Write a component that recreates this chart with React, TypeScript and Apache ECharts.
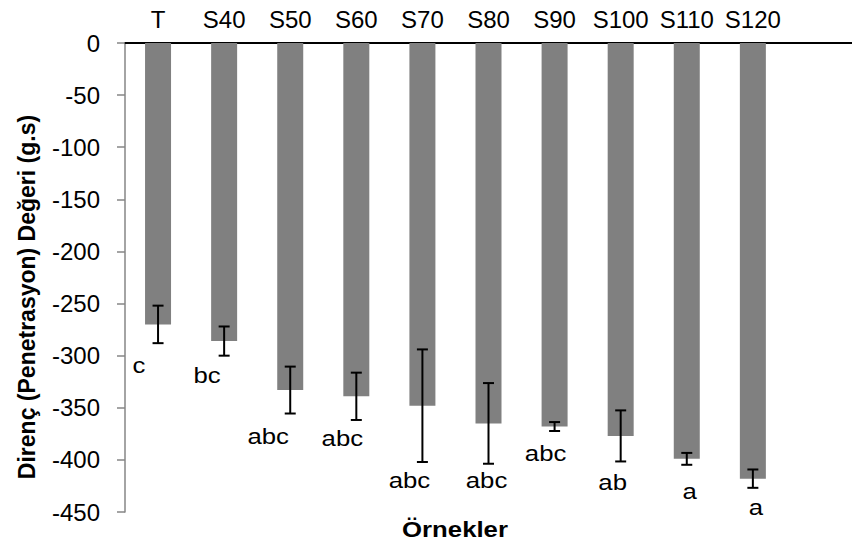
import React, { useEffect, useRef } from "react";
import * as echarts from "echarts";

const categories = ["T", "S40", "S50", "S60", "S70", "S80", "S90", "S100", "S110", "S120", ""];
const means = [-270, -286, -333, -339, -348, -365, -368, -377, -399, -418];
const errors = [18, 14, 22.5, 22.7, 54, 38.7, 4.3, 24.5, 5.7, 8.8];
const letters = ["c", "bc", "abc", "abc", "abc", "abc", "abc", "ab", "a", "a"];
const letterValues = [-309, -318.7, -377.2, -379.1, -419.4, -419.7, -393.2, -421.3, -430, -445.3];
const yTicks = { min: -450, max: 0, interval: 50 };

const FONT = "'Liberation Sans', Arial, sans-serif";
const letterDx = [-19, -17, -22, -14, -13, -2, -9, -8, 3, 3];
const HSCALE = 1.12;

export default function App() {
  const ref = useRef<HTMLDivElement>(null);
  useEffect(() => {
    if (!ref.current) return;
    const chart = echarts.init(ref.current, undefined, { renderer: "svg" });
    const errData = means.map((m, i) => [i, m - errors[i], m + errors[i]]);
    const letterData = letterValues.map((v, i) => [i, v]);
    chart.setOption({
      animation: false,
      textStyle: { fontFamily: FONT },
      grid: { left: 125, right: 0, top: 43, bottom: 37, containLabel: false },
      xAxis: {
        type: "category",
        position: "top",
        data: categories,
        axisLine: { show: true, onZero: false, lineStyle: { color: "#000", width: 2 } },
        axisTick: { show: false },
        axisLabel: { color: "#000", fontSize: 24, fontFamily: FONT, margin: 12, interval: 0 },
        splitLine: { show: false },
      },
      yAxis: {
        type: "value",
        min: yTicks.min,
        max: yTicks.max,
        interval: yTicks.interval,
        axisLine: { show: true, lineStyle: { color: "#868686", width: 1.5 } },
        axisTick: { show: true, inside: false, length: 8, lineStyle: { color: "#868686", width: 1.5 } },
        axisLabel: { color: "#000", fontSize: 24, fontFamily: FONT, margin: 25 },
        splitLine: { show: false },
      },
      graphic: [
        {
          type: "text",
          x: 27,
          y: 297,
          rotation: Math.PI / 2,
          style: {
            text: "Direnç (Penetrasyon) Değeri (g.s)",
            font: `bold 23px ${FONT}`,
            fill: "#000",
            textAlign: "center",
            textVerticalAlign: "middle",
          },
        },
        {
          type: "text",
          x: 455,
          y: 529,
          scaleX: HSCALE,
          style: {
            text: "Örnekler",
            font: `bold 23px ${FONT}`,
            fill: "#000",
            textAlign: "center",
            textVerticalAlign: "middle",
          },
        },
      ],
      series: [
        {
          type: "bar",
          data: means,
          barWidth: 26,
          itemStyle: { color: "#808080" },
        },
        {
          type: "custom",
          data: errData,
          encode: { x: 0, y: [1, 2] },
          z: 10,
          renderItem: (params: any, api: any) => {
            const x = api.value(0);
            const lo = api.coord([x, api.value(1)]);
            const hi = api.coord([x, api.value(2)]);
            const cap = 5.5;
            const st = { stroke: "#000", lineWidth: 2 };
            return {
              type: "group",
              children: [
                { type: "line", shape: { x1: lo[0], y1: lo[1], x2: hi[0], y2: hi[1] }, style: st },
                { type: "line", shape: { x1: lo[0] - cap, y1: lo[1], x2: lo[0] + cap, y2: lo[1] }, style: st },
                { type: "line", shape: { x1: hi[0] - cap, y1: hi[1], x2: hi[0] + cap, y2: hi[1] }, style: st },
              ],
            };
          },
        },
        {
          type: "custom",
          data: letterData,
          encode: { x: 0, y: 1 },
          z: 10,
          renderItem: (params: any, api: any) => {
            const i = params.dataIndex;
            const p = api.coord([api.value(0), api.value(1)]);
            return {
              type: "text",
              x: p[0] + letterDx[i],
              y: p[1],
              scaleX: HSCALE,
              style: {
                text: letters[i],
                font: `23px ${FONT}`,
                fill: "#000",
                textAlign: "center",
                textVerticalAlign: "middle",
              },
            };
          },
        },
      ],
    });
    return () => chart.dispose();
  }, []);
  return <div ref={ref} style={{ width: 852, height: 549, position: "absolute", left: 0, top: 0 }} />;
}
